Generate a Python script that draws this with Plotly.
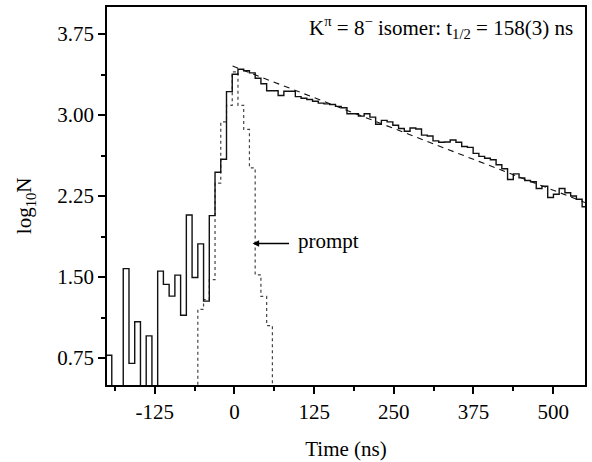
import numpy as np
import plotly.graph_objects as go

# ---- data ----
BIN_WIDTH_NS = 9.0
FIRST_EDGE_NS = -201.5          # left edge of first delayed-spectrum bin

# delayed (isomer) spectrum, log10 counts per bin; 0 = empty bin
delayed_log10N = [
    0.775, 0, 0, 1.578, 0.70, 1.085, 0, 0.955, 0, 1.554,
    1.432, 1.323, 1.517, 1.146, 2.074, 1.496, 1.807, 1.277, 2.068, 2.47,
    2.59, 3.216, 3.378, 3.423, 3.41, 3.39, 3.34, 3.29, 3.225, 3.225,
    3.18, 3.22, 3.22, 3.17, 3.155, 3.143, 3.128, 3.11, 3.103, 3.097,
    3.08, 3.067, 3.012, 3.012, 2.99, 3.012, 2.98, 2.914, 2.95, 2.936,
    2.905, 2.875, 2.85, 2.88, 2.87, 2.814, 2.805, 2.76, 2.747, 2.75,
    2.768, 2.747, 2.708, 2.70, 2.645, 2.617, 2.60, 2.586, 2.54, 2.503,
    2.403, 2.455, 2.418, 2.394, 2.382, 2.32, 2.34, 2.236, 2.266, 2.32,
    2.28, 2.25, 2.22, 2.15,
]

# prompt spectrum (dotted), first value aligned with delayed bin index 15
PROMPT_FIRST_BIN = 15
prompt_log10N = [0, 1.20, 1.29, 1.475, 2.37, 2.936, 3.09, 3.40, 3.09,
                 2.866, 2.51, 1.52, 1.32, 1.05, 0]

# exponential-decay fit line (straight in log scale): endpoints
fit_t_ns = [-3, 550]
fit_log10N = [3.453, 2.19]

x_tickvals = [-125, 0, 125, 250, 375, 500]
x_ticktext = ["-125", "0", "125", "250", "375", "500"]
x_minorvals = [-187.5, -62.5, 62.5, 187.5, 312.5, 437.5]
y_tickvals = [0.75, 1.50, 2.25, 3.00, 3.75]
y_ticktext = ["0.75", "1.50", "2.25", "3.00", "3.75"]
y_minorvals = [1.125, 1.875, 2.625, 3.375]

# ---- build step coordinates ----
def step_xy(first_edge, values):
    n = len(values)
    edges = first_edge + BIN_WIDTH_NS * np.arange(n + 1)
    return list(edges), list(values) + [values[-1]]

dx, dy = step_xy(FIRST_EDGE_NS, delayed_log10N)
px_, py_ = step_xy(FIRST_EDGE_NS + BIN_WIDTH_NS * PROMPT_FIRST_BIN, prompt_log10N)

FONT = "Liberation Serif"

fig = go.Figure()
fig.add_trace(go.Scatter(x=px_, y=py_, mode="lines", line_shape="hv",
                         line=dict(color="#444444", width=1.2, dash="dot"),
                         showlegend=False, hoverinfo="skip"))
fig.add_trace(go.Scatter(x=dx, y=dy, mode="lines", line_shape="hv",
                         line=dict(color="#111111", width=1.4),
                         showlegend=False, hoverinfo="skip"))
fig.add_trace(go.Scatter(x=fit_t_ns, y=fit_log10N, mode="lines",
                         line=dict(color="#111111", width=1.1, dash="6px,5px"),
                         showlegend=False, hoverinfo="skip"))

axis_common = dict(showgrid=False, zeroline=False, showline=True, linecolor="black",
                   linewidth=1.6, mirror=True, ticks="outside", tickwidth=1.5,
                   tickcolor="black", ticklen=7,
                   tickfont=dict(family=FONT, size=21, color="black"))

fig.update_xaxes(range=[-200, 550], tickmode="array", tickvals=x_tickvals,
                 ticktext=x_ticktext,
                 minor=dict(tickmode="array", tickvals=x_minorvals, ticks="outside",
                            ticklen=4, tickwidth=1.5, tickcolor="black"),
                 title=dict(text="Time (ns)", font=dict(family=FONT, size=21, color="black"),
                            standoff=18),
                 **axis_common)
fig.update_yaxes(range=[0.5, 4.0], tickmode="array", tickvals=y_tickvals,
                 ticktext=y_ticktext,
                 minor=dict(tickmode="array", tickvals=y_minorvals, ticks="outside",
                            ticklen=4, tickwidth=1.5, tickcolor="black"),
                 **axis_common)

# y-axis title placed as a rotated annotation
fig.add_annotation(x=-0.17, y=0.475, xref="paper", yref="paper",
                   xanchor="center", yanchor="middle", textangle=-90,
                   text="log<sub>10</sub>N", showarrow=False,
                   font=dict(family=FONT, size=21, color="black"))

fig.add_annotation(x=534, y=3.81, xref="x", yref="y", xanchor="right", yanchor="middle",
                   text="K<sup>π</sup> = 8<sup>−</sup> isomer: t<sub>1/2</sub> = 158(3) ns",
                   showarrow=False, font=dict(family=FONT, size=21, color="black"))
fig.add_annotation(x=28.5, y=1.81, ax=88, ay=1.81, xref="x", yref="y", axref="x", ayref="y",
                   text="", showarrow=True, arrowhead=2, arrowsize=1, arrowwidth=1.3,
                   arrowcolor="black")
fig.add_annotation(x=97, y=1.83, xref="x", yref="y", xanchor="left", yanchor="middle",
                   text="prompt", showarrow=False,
                   font=dict(family=FONT, size=21, color="black"))

fig.update_layout(width=592, height=462, margin=dict(l=107, r=5, t=7, b=72),
                  paper_bgcolor="white", plot_bgcolor="white")

fig.write_html("out.html")
